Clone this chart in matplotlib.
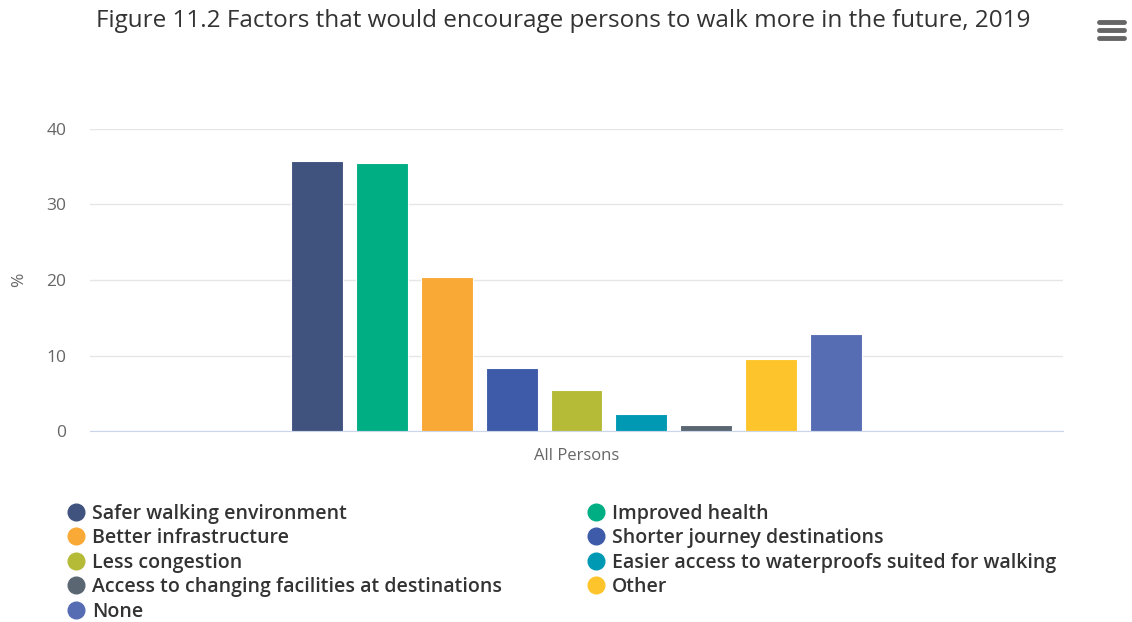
import numpy as np
import matplotlib.pyplot as plt
from matplotlib.lines import Line2D

plt.rcParams['font.family'] = ['Open Sans', 'DejaVu Sans']

# Data
category = ["All Persons"]
series = [
    "Safer walking environment",
    "Improved health",
    "Better infrastructure",
    "Shorter journey destinations",
    "Less congestion",
    "Easier access to waterproofs suited for walking",
    "Access to changing facilities at destinations",
    "Other",
    "None",
]
values = [35.8, 35.5, 20.4, 8.4, 5.4, 2.3, 0.8, 9.5, 12.8]
colors = ["#40537f", "#00ae84", "#f9a935", "#3d5ba9", "#b5bb36",
          "#0099b4", "#5a6773", "#fdc52b", "#566db4"]

W, H = 1132, 622
fig = plt.figure(figsize=(W / 100, H / 100), dpi=100)
ax = fig.add_axes([90 / W, 1 - 431 / H, (1063 - 90) / W, (431 - 129) / H])

# Highcharts-like grouped column layout: group padding 0.2, point padding 0.1
n = len(series)
slot = 0.6 / n
bw = slot * 0.8
for i, (name, v, c) in enumerate(zip(series, values, colors)):
    x = -0.3 + slot * (i + 0.5)
    ax.bar(x, v, width=bw, color=c, edgecolor="white", linewidth=0.8,
           label=name, zorder=3)

ax.set_xlim(-0.5, 0.5)
ax.set_ylim(0, 40)
ax.set_yticks([0, 10, 20, 30, 40])
ax.set_xticks([0])
ax.set_xticklabels(category)
ax.grid(axis="y", color="#e6e6e6", linewidth=1, zorder=0)
for s in ["top", "right", "left"]:
    ax.spines[s].set_visible(False)
ax.spines["bottom"].set_color("#ccd6eb")
ax.tick_params(axis="y", length=0, pad=17, labelsize=12.5, labelcolor="#666666")
ax.tick_params(axis="x", length=0, pad=12, labelsize=12, labelcolor="#666666")
ax.set_ylabel("%", fontsize=12.5, color="#666666", labelpad=14)

fig.text(563 / W, 1 - 21 / H, "Figure 11.2 Factors that would encourage persons to walk more in the future, 2019",
         ha="center", va="center", fontsize=17.5, color="#333333")

# legend, row-wise in two columns
handles = [Line2D([], [], marker="o", linestyle="none", markersize=12,
                  markerfacecolor=c, markeredgecolor=c) for c in colors]
left_idx = [0, 2, 4, 6, 8]
right_idx = [1, 3, 5, 7]
for idx, xpos in [(left_idx, 58 / W), (right_idx, 578 / W)]:
    leg = fig.legend([handles[i] for i in idx], [series[i] for i in idx],
                     loc="upper left", bbox_to_anchor=(xpos, 1 - 496 / H),
                     frameon=False, fontsize=14, labelspacing=0.23,
                     handletextpad=0.25, handlelength=1.1, borderaxespad=0)
    for t in leg.get_texts():
        t.set_color("#333333")
        t.set_fontweight("semibold")

# menu icon
for yy in [22, 30, 38]:
    fig.add_artist(Line2D([1099 / W, 1124 / W], [1 - yy / H, 1 - yy / H],
                          color="#666666", linewidth=3.5, solid_capstyle="round"))

fig.savefig("out.png", dpi=100, facecolor="white")
